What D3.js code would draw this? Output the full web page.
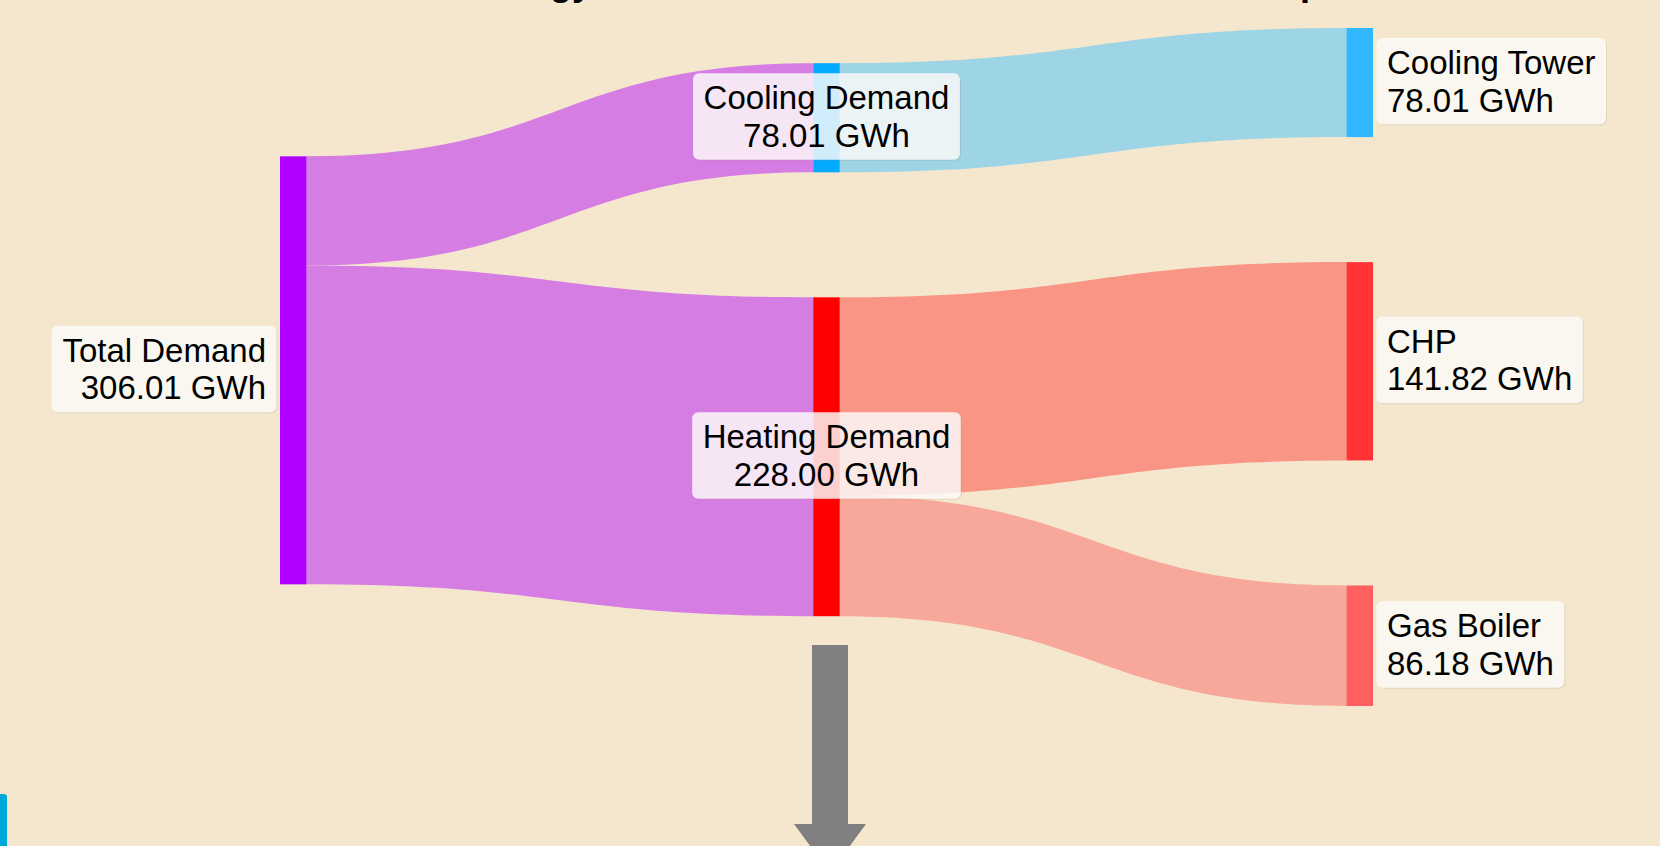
<!DOCTYPE html>
<html>
<head>
<meta charset="utf-8">
<script src="https://cdn.jsdelivr.net/npm/d3@7"></script>
<style>
    html, body { margin: 0; padding: 0; background: #f5e7ce; overflow: hidden; }
    svg { display: block; }
    text { font-family: "Liberation Sans", Arial, sans-serif; fill: #000; }
</style>
</head>
<body>
<svg id="chart" width="1660" height="846"></svg>
<script>
(function () {
    "use strict";

    // ---- data ----
    var nodeNames = ['Total Demand', 'Cooling Demand', 'Heating Demand', 'Cooling Tower', 'CHP', 'Gas Boiler'];
    var nodeColors = ['#b000ff', '#00aaff', '#ff0000', '#31b7ff', '#ff3333', '#ff5f5f'];
    var linkSource = [0, 0, 1, 2, 2];
    var linkTarget = [1, 2, 3, 4, 5];
    var linkValue = [78.01, 228.00, 78.01, 141.82, 86.18];
    var linkColors = ['#d67de3', '#d67de3', '#9dd4e6', '#f99585', '#f8a89a'];
    var unit = 'GWh';
    var title = 'Annual Energy Flow of Demand to Conversion Unit Setup';

    var config = {
        width: 1660,
        height: 846,
        extent: { x0: 280, x1: 1373, y0: 28, y1: 706 },
        nodeWidth: 26.5,
        nodePadding: 125,
        sweeps: 200,
        fontSize: 33,
        arrow: { top: 645, neck: 824, tip: 873, shaft: 18, head: 36 }
    };

    // pool-adjacent-violators: weighted non-decreasing fit
    function isotonic(q, w) {
        var blocks = [];
        q.forEach(function (v, i) {
            blocks.push({ v: v, w: w[i], n: 1 });
            while (blocks.length > 1 && blocks[blocks.length - 2].v > blocks[blocks.length - 1].v) {
                var b = blocks.pop(), a = blocks[blocks.length - 1];
                a.v = (a.v * a.w + b.v * b.w) / (a.w + b.w);
                a.w += b.w;
                a.n += b.n;
            }
        });
        var out = [];
        blocks.forEach(function (b) { for (var k = 0; k < b.n; k++) out.push(b.v); });
        return out;
    }

    // sankey layout: nodes are placed so that links are as straight as possible
    function sankeyLayout() {
        var ext = config.extent;
        var nodes = nodeNames.map(function (name, i) {
            return { index: i, name: name, color: nodeColors[i], sourceLinks: [], targetLinks: [] };
        });
        var links = linkValue.map(function (v, i) {
            var l = { source: nodes[linkSource[i]], target: nodes[linkTarget[i]], value: v, color: linkColors[i] };
            l.source.sourceLinks.push(l);
            l.target.targetLinks.push(l);
            return l;
        });
        nodes.forEach(function (n) {
            n.value = Math.max(d3.sum(n.sourceLinks, function (l) { return l.value; }),
                d3.sum(n.targetLinks, function (l) { return l.value; }));
        });

        var current = nodes.filter(function (n) { return !n.targetLinks.length; });
        var depth = 0;
        while (current.length) {
            var next = [];
            current.forEach(function (n) {
                n.depth = depth;
                n.sourceLinks.forEach(function (l) { if (next.indexOf(l.target) < 0) next.push(l.target); });
            });
            current = next;
            depth++;
        }
        var maxDepth = depth - 1;
        nodes.forEach(function (n) { n.layer = n.sourceLinks.length ? n.depth : maxDepth; });

        var x = d3.scaleLinear().domain([0, maxDepth]).range([ext.x0, ext.x1 - config.nodeWidth]);
        nodes.forEach(function (n) { n.x0 = x(n.layer); n.x1 = n.x0 + config.nodeWidth; });

        var columns = d3.range(maxDepth + 1).map(function (k) {
            return nodes.filter(function (n) { return n.layer === k; });
        });
        var py = Math.min(config.nodePadding, (ext.y1 - ext.y0) / (d3.max(columns, function (c) { return c.length; }) - 1));
        var ky = d3.min(columns, function (c) {
            return (ext.y1 - ext.y0 - (c.length - 1) * py) / d3.sum(c, function (n) { return n.value; });
        });
        var maxValue = d3.max(nodes, function (n) { return n.value; });
        var h = d3.scaleLinear().domain([0, maxValue]).range([0, maxValue * ky]);

        links.forEach(function (l) { l.width = h(l.value); });

        // link offsets inside their nodes (kept in node order)
        nodes.forEach(function (n) {
            var os = 0, ot = 0;
            n.sourceLinks.sort(function (a, b) { return a.target.index - b.target.index; });
            n.targetLinks.sort(function (a, b) { return a.source.index - b.source.index; });
            n.sourceLinks.forEach(function (l) { l.os = os; os += l.width; });
            n.targetLinks.forEach(function (l) { l.ot = ot; ot += l.width; });
        });

        // start: spread each column evenly
        columns.forEach(function (col) {
            var used = d3.sum(col, function (n) { return h(n.value); }) + (col.length - 1) * py;
            var gap = (ext.y1 - ext.y0 - used) / (col.length + 1);
            var y = ext.y0 + gap;
            col.forEach(function (n) {
                n.y0 = y;
                n.y1 = y + h(n.value);
                y = n.y1 + py + gap;
            });
        });

        function placeColumn(col) {
            var offs = [], q = [], w = [], off = 0;
            col.forEach(function (n) {
                var sy = 0, sw = 0;
                n.targetLinks.forEach(function (l) { sy += l.value * (l.source.y0 + l.os - l.ot); sw += l.value; });
                n.sourceLinks.forEach(function (l) { sy += l.value * (l.target.y0 + l.ot - l.os); sw += l.value; });
                offs.push(off);
                q.push((sw ? sy / sw : n.y0) - off);
                w.push(sw || 1e-6);
                off += h(n.value) + py;
            });
            var last = col[col.length - 1];
            var lo = ext.y0;
            var hi = Math.max(lo, ext.y1 - offs[col.length - 1] - h(last.value));
            var z = isotonic(q, w);
            col.forEach(function (n, i) {
                n.y0 = Math.max(lo, Math.min(hi, z[i])) + offs[i];
                n.y1 = n.y0 + h(n.value);
            });
        }

        for (var s = 0; s < config.sweeps; s++) {
            columns.forEach(placeColumn);
            columns.slice().reverse().forEach(placeColumn);
        }

        links.forEach(function (l) {
            l.y0 = l.source.y0 + l.os + l.width / 2;
            l.y1 = l.target.y0 + l.ot + l.width / 2;
        });

        return { nodes: nodes, links: links, maxLayer: maxDepth };
    }

    function linkArea(l) {
        var x0 = l.source.x1, x1 = l.target.x0, xm = (x0 + x1) / 2;
        var hw = l.width / 2;
        var p = d3.path();
        p.moveTo(x0, l.y0 - hw);
        p.bezierCurveTo(xm, l.y0 - hw, xm, l.y1 - hw, x1, l.y1 - hw);
        p.lineTo(x1, l.y1 + hw);
        p.bezierCurveTo(xm, l.y1 + hw, xm, l.y0 + hw, x0, l.y0 + hw);
        p.closePath();
        return p.toString();
    }

    function drawGraph() {
        var svg = d3.select('#chart');
        var graph = sankeyLayout();
        var fmt = d3.format('.2f');

        svg.append('rect')
            .attr('width', config.width).attr('height', config.height)
            .attr('fill', '#f5e7ce');

        // title sits above the visible area, only its descenders show
        svg.append('text')
            .attr('x', config.width / 2).attr('y', -5)
            .attr('text-anchor', 'middle')
            .style('font-size', '36px').style('font-weight', 'bold')
            .text(title);

        svg.append('g').attr('class', 'links')
            .selectAll('path')
            .data(graph.links)
            .enter().append('path')
            .attr('d', linkArea)
            .attr('fill', function (d) { return d.color; });

        svg.append('g').attr('class', 'nodes')
            .selectAll('rect')
            .data(graph.nodes)
            .enter().append('rect')
            .attr('x', function (d) { return d.x0; })
            .attr('y', function (d) { return d.y0; })
            .attr('width', function (d) { return d.x1 - d.x0; })
            .attr('height', function (d) { return d.y1 - d.y0; })
            .attr('fill', function (d) { return d.color; });

        var labels = svg.append('g').attr('class', 'labels')
            .selectAll('g')
            .data(graph.nodes)
            .enter().append('g');

        labels.each(function (d) {
            var g = d3.select(this);
            var cy = (d.y0 + d.y1) / 2;
            var tx, anchor;
            if (d.layer === 0) { tx = d.x0 - 14; anchor = 'end'; }
            else if (d.layer === graph.maxLayer) { tx = d.x1 + 14; anchor = 'start'; }
            else { tx = (d.x0 + d.x1) / 2; anchor = 'middle'; }

            var text = g.append('text')
                .attr('x', tx).attr('y', cy)
                .attr('text-anchor', anchor)
                .style('font-size', config.fontSize + 'px');
            text.append('tspan').attr('x', tx).attr('dy', '-0.26em').text(d.name);
            text.append('tspan').attr('x', tx).attr('dy', '1.14em').text(fmt(d.value) + ' ' + unit);

            var bb = text.node().getBBox();
            var padX = 10.5, padY = 6;
            g.insert('rect', 'text')
                .attr('x', bb.x - padX + 1).attr('y', bb.y - padY + 1)
                .attr('width', bb.width + padX * 2).attr('height', bb.height + padY * 2)
                .attr('rx', 6)
                .attr('fill', 'rgba(150,130,100,0.18)');
            g.insert('rect', 'text')
                .attr('x', bb.x - padX).attr('y', bb.y - padY)
                .attr('width', bb.width + padX * 2).attr('height', bb.height + padY * 2)
                .attr('rx', 6)
                .attr('fill', '#fff')
                .attr('fill-opacity', 0.8);
        });

        // downward arrow under the heating node
        var heat = graph.nodes[2];
        var a = config.arrow;
        var ax = (heat.x0 + heat.x1) / 2 + 3.5;
        var arrow = d3.path();
        arrow.moveTo(ax - a.shaft, a.top);
        arrow.lineTo(ax + a.shaft, a.top);
        arrow.lineTo(ax + a.shaft, a.neck);
        arrow.lineTo(ax + a.head, a.neck);
        arrow.lineTo(ax, a.tip);
        arrow.lineTo(ax - a.head, a.neck);
        arrow.lineTo(ax - a.shaft, a.neck);
        arrow.closePath();
        svg.append('path').attr('d', arrow.toString()).attr('fill', '#808080');

        // partly hidden button at the lower left edge
        svg.append('rect')
            .attr('x', -10).attr('y', 794)
            .attr('width', 17).attr('height', 80)
            .attr('rx', 3)
            .attr('fill', '#00a8d8');
    }

    drawGraph();
})();
</script>
</body>
</html>
